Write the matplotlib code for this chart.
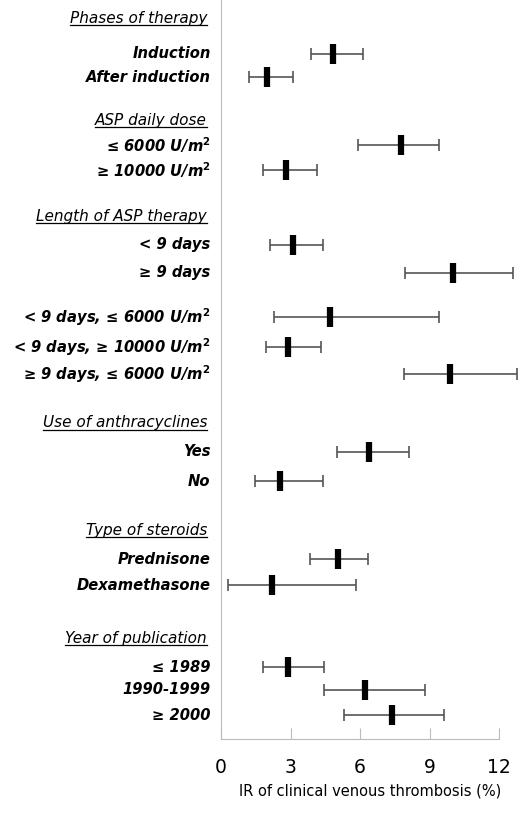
import matplotlib
matplotlib.use("Agg")
import matplotlib.pyplot as plt

labels = ["Induction", "After induction",
          "≤ 6000 U/m$^\\mathbf{2}$", "≥ 10000 U/m$^\\mathbf{2}$",
          "< 9 days", "≥ 9 days",
          "< 9 days, ≤ 6000 U/m$^\\mathbf{2}$", "< 9 days, ≥ 10000 U/m$^\\mathbf{2}$",
          "≥ 9 days, ≤ 6000 U/m$^\\mathbf{2}$",
          "Yes", "No",
          "Prednisone", "Dexamethasone",
          "≤ 1989", "1990-1999", "≥ 2000"]
rate = [4.82, 1.97, 7.78, 2.80, 3.11, 10.03, 4.70, 2.90, 9.88, 6.39, 2.56, 5.03, 2.20, 2.89, 6.20, 7.38]
low = [3.90, 1.22, 5.90, 1.81, 2.10, 7.93, 2.30, 1.93, 7.91, 5.00, 1.48, 3.83, 0.30, 1.81, 4.43, 5.30]
high = [6.11, 3.12, 9.39, 4.13, 4.42, 12.60, 9.39, 4.30, 12.76, 8.11, 4.39, 6.35, 5.83, 4.43, 8.80, 9.61]
row_y = [54, 77, 145, 170, 245, 273, 317, 347, 374, 452, 481, 559, 585, 667, 690, 715]

headers = ["Phases of therapy", "ASP daily dose", "Length of ASP therapy",
           "Use of anthracyclines", "Type of steroids", "Year of publication"]
header_y = [18, 120, 216, 423, 530, 638]

W, H = 520, 814
fig = plt.figure(figsize=(W / 100, H / 100), dpi=100)
ax = fig.add_axes([221 / W, (H - 739) / H, (W - 221) / W, 739 / H])
ax.set_xlim(0, 12.9)
ax.set_ylim(739, 0)

for y, r, lo, hi in zip(row_y, rate, low, high):
    ax.errorbar(r, y, xerr=[[r - lo], [hi - r]], fmt="none", ecolor="#555555",
                elinewidth=1.2, capsize=4, capthick=1.2)
    ax.plot(r, y, marker="|", color="black", markersize=14, markeredgewidth=4.5)

for sp in ["top", "right"]:
    ax.spines[sp].set_visible(False)
ax.spines["left"].set_color("#bbbbbb")
ax.spines["bottom"].set_color("#bbbbbb")
ax.spines["bottom"].set_bounds(0, 12)
ax.set_yticks([])
ax.set_xticks([0, 3, 6, 9, 12])
ax.tick_params(axis="x", direction="in", length=8, color="#bbbbbb", labelsize=13.5, pad=14)
ax.set_xlabel("IR of clinical venous thrombosis (%)", fontsize=10.5, labelpad=4)

for lab, y in zip(labels, row_y):
    ax.text(-0.45, y, lab, ha="right", va="center", fontsize=10.6,
            fontweight="bold", fontstyle="italic", clip_on=False)

htexts = []
for h, y in zip(headers, header_y):
    t = ax.text(-0.6, y, h, ha="right", va="center", fontsize=11,
                fontstyle="italic", clip_on=False)
    htexts.append(t)

fig.canvas.draw()
r = fig.canvas.get_renderer()
inv = fig.transFigure.inverted()
for t in htexts:
    bb = t.get_window_extent(r)
    (x0, y0), (x1, _) = inv.transform([(bb.x0, bb.y0), (bb.x1, bb.y1)])
    fig.add_artist(plt.Line2D([x0, x1], [y0 + 0.001, y0 + 0.001], color="black",
                              linewidth=0.9, transform=fig.transFigure))

fig.savefig("out.png", dpi=100)
